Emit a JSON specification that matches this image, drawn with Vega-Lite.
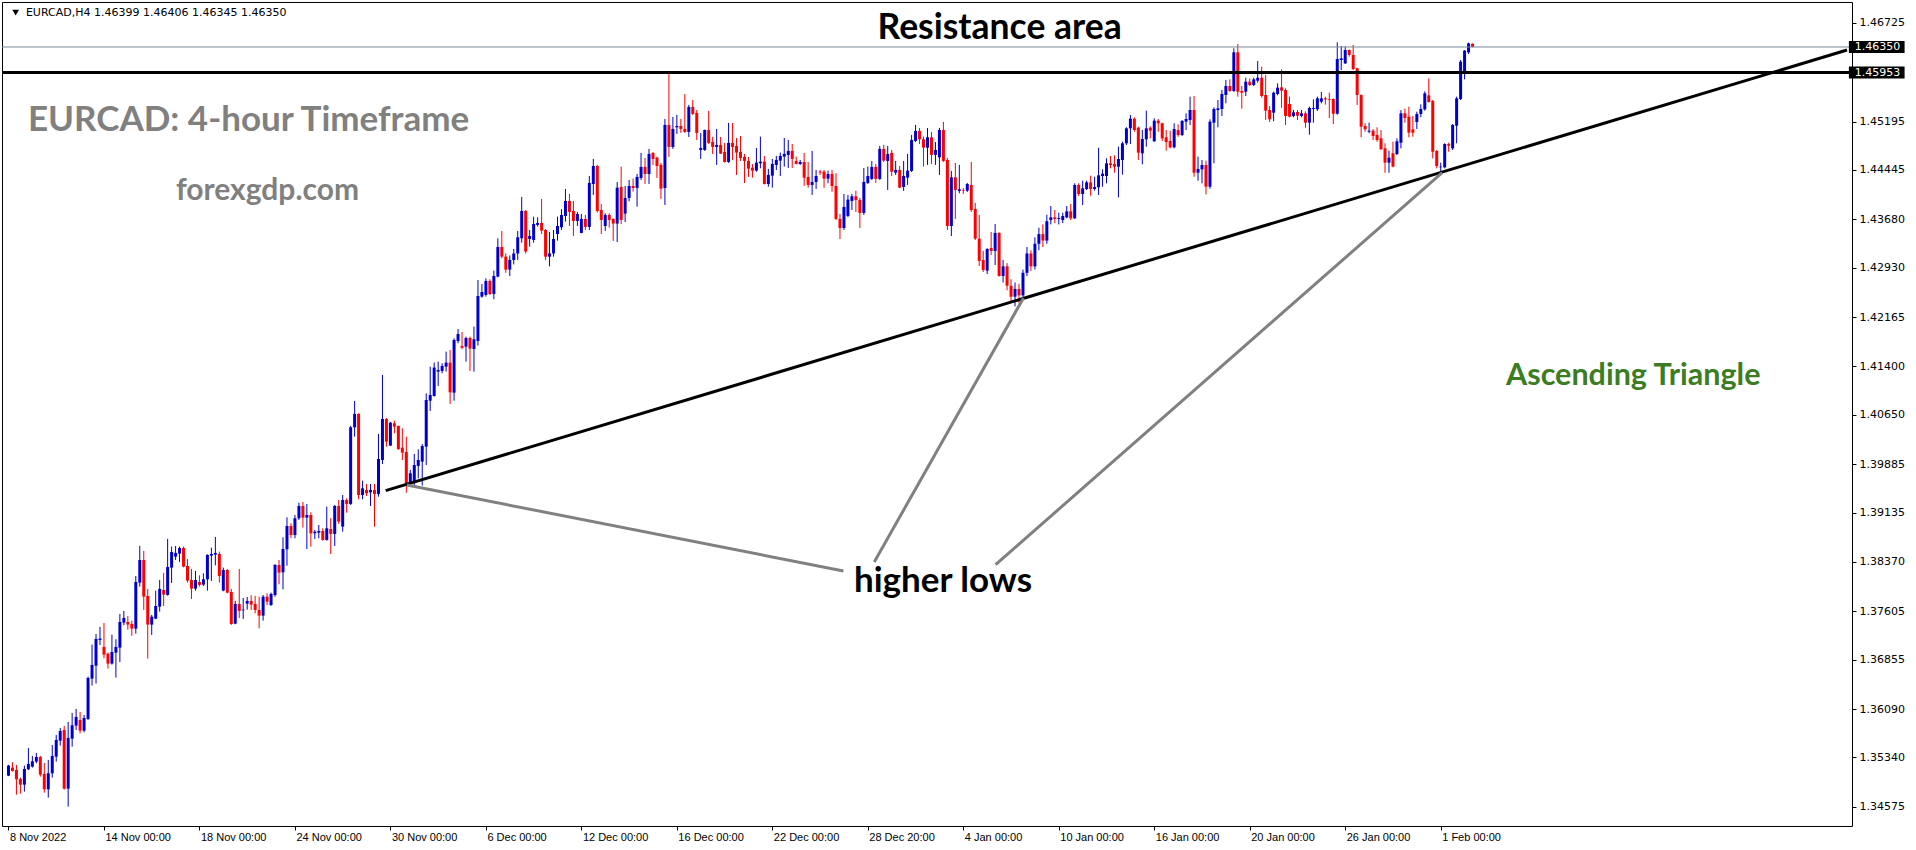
{
"$schema": "https://vega.github.io/schema/vega-lite/v6.json",
"width": 1850, "height": 824,
"autosize": {"type": "none"},
"padding": {"left": 2, "top": 2, "right": 64, "bottom": 24},
"background": "white",
"config": {"view": {"stroke": "#000000", "strokeWidth": 1}, "axis": {"grid": false, "domain": false}},
"data": {"values": [{}]},
"datasets": {"candles": [
{"i":0,"o":1.35058,"h":1.35223,"l":1.3505,"c":1.35213},
{"i":1,"o":1.35182,"h":1.35264,"l":1.3512,"c":1.3513},
{"i":2,"o":1.35146,"h":1.35223,"l":1.34763,"c":1.35001},
{"i":3,"o":1.35006,"h":1.35027,"l":1.34779,"c":1.34918},
{"i":4,"o":1.34918,"h":1.35213,"l":1.3481,"c":1.35161},
{"i":5,"o":1.35156,"h":1.35487,"l":1.35146,"c":1.35239},
{"i":6,"o":1.35197,"h":1.35363,"l":1.35182,"c":1.3528},
{"i":7,"o":1.35275,"h":1.35409,"l":1.35249,"c":1.35347},
{"i":8,"o":1.35347,"h":1.35363,"l":1.35042,"c":1.35073},
{"i":9,"o":1.35084,"h":1.35254,"l":1.34794,"c":1.34846},
{"i":10,"o":1.34846,"h":1.35301,"l":1.34717,"c":1.35094},
{"i":11,"o":1.35094,"h":1.35533,"l":1.35027,"c":1.35363},
{"i":12,"o":1.35352,"h":1.35688,"l":1.35275,"c":1.35611},
{"i":13,"o":1.356,"h":1.35797,"l":1.35523,"c":1.3575},
{"i":14,"o":1.35766,"h":1.35828,"l":1.34841,"c":1.34856},
{"i":15,"o":1.34856,"h":1.35889,"l":1.34577,"c":1.35642},
{"i":16,"o":1.35631,"h":1.36029,"l":1.35507,"c":1.35838},
{"i":17,"o":1.35833,"h":1.36091,"l":1.35766,"c":1.35967},
{"i":18,"o":1.3592,"h":1.36044,"l":1.35714,"c":1.35755},
{"i":19,"o":1.35755,"h":1.35998,"l":1.35729,"c":1.35951},
{"i":20,"o":1.35936,"h":1.36592,"l":1.3592,"c":1.36571},
{"i":21,"o":1.36561,"h":1.37088,"l":1.36453,"c":1.36773},
{"i":22,"o":1.36762,"h":1.37253,"l":1.36484,"c":1.37176},
{"i":23,"o":1.3716,"h":1.37362,"l":1.37083,"c":1.37181},
{"i":24,"o":1.37052,"h":1.37424,"l":1.36876,"c":1.36933},
{"i":25,"o":1.36948,"h":1.36964,"l":1.36716,"c":1.36794},
{"i":26,"o":1.36794,"h":1.37243,"l":1.36778,"c":1.36974},
{"i":27,"o":1.36964,"h":1.37171,"l":1.36577,"c":1.37052},
{"i":28,"o":1.37041,"h":1.37563,"l":1.36819,"c":1.37439},
{"i":29,"o":1.37429,"h":1.3761,"l":1.37388,"c":1.37501},
{"i":30,"o":1.37439,"h":1.37532,"l":1.3732,"c":1.37398},
{"i":31,"o":1.37408,"h":1.3746,"l":1.37227,"c":1.37336},
{"i":32,"o":1.37336,"h":1.38152,"l":1.37258,"c":1.38059},
{"i":33,"o":1.38049,"h":1.38617,"l":1.37987,"c":1.384},
{"i":34,"o":1.384,"h":1.3854,"l":1.37625,"c":1.37832},
{"i":35,"o":1.37842,"h":1.37951,"l":1.36871,"c":1.37398},
{"i":36,"o":1.37398,"h":1.37548,"l":1.37238,"c":1.37522},
{"i":37,"o":1.37491,"h":1.37925,"l":1.37481,"c":1.37687},
{"i":38,"o":1.37677,"h":1.3809,"l":1.37599,"c":1.37951},
{"i":39,"o":1.37935,"h":1.38199,"l":1.37687,"c":1.37863},
{"i":40,"o":1.37858,"h":1.38726,"l":1.37847,"c":1.38292},
{"i":41,"o":1.38281,"h":1.38607,"l":1.38044,"c":1.38524},
{"i":42,"o":1.38452,"h":1.38617,"l":1.384,"c":1.38509},
{"i":43,"o":1.38498,"h":1.38607,"l":1.38369,"c":1.38586},
{"i":44,"o":1.38586,"h":1.38607,"l":1.38286,"c":1.38297},
{"i":45,"o":1.38307,"h":1.38416,"l":1.38049,"c":1.3808},
{"i":46,"o":1.3809,"h":1.38261,"l":1.37796,"c":1.37956},
{"i":47,"o":1.37956,"h":1.3823,"l":1.37925,"c":1.3809},
{"i":48,"o":1.38059,"h":1.38162,"l":1.37987,"c":1.38013},
{"i":49,"o":1.38018,"h":1.38193,"l":1.37997,"c":1.381},
{"i":50,"o":1.381,"h":1.38488,"l":1.37925,"c":1.38478},
{"i":51,"o":1.38467,"h":1.38591,"l":1.38075,"c":1.38493},
{"i":52,"o":1.38483,"h":1.38757,"l":1.38317,"c":1.38509},
{"i":53,"o":1.38493,"h":1.38529,"l":1.38049,"c":1.38152},
{"i":54,"o":1.37925,"h":1.38281,"l":1.37915,"c":1.38245},
{"i":55,"o":1.38245,"h":1.38261,"l":1.37884,"c":1.37894},
{"i":56,"o":1.37904,"h":1.37951,"l":1.37393,"c":1.37408},
{"i":57,"o":1.37413,"h":1.37765,"l":1.37403,"c":1.37718},
{"i":58,"o":1.37718,"h":1.38261,"l":1.37501,"c":1.3761},
{"i":59,"o":1.3762,"h":1.37811,"l":1.37486,"c":1.3763},
{"i":60,"o":1.37723,"h":1.37827,"l":1.3763,"c":1.37765},
{"i":61,"o":1.37765,"h":1.37852,"l":1.37625,"c":1.37708},
{"i":62,"o":1.37718,"h":1.37842,"l":1.37573,"c":1.37625},
{"i":63,"o":1.37625,"h":1.37831,"l":1.37341,"c":1.37537},
{"i":64,"o":1.37537,"h":1.37857,"l":1.3746,"c":1.37831},
{"i":65,"o":1.37831,"h":1.37883,"l":1.37702,"c":1.37754},
{"i":66,"o":1.37702,"h":1.37893,"l":1.37687,"c":1.37873},
{"i":67,"o":1.37857,"h":1.38338,"l":1.37831,"c":1.38322},
{"i":68,"o":1.38322,"h":1.384,"l":1.38023,"c":1.38204},
{"i":69,"o":1.38209,"h":1.38751,"l":1.37945,"c":1.3857},
{"i":70,"o":1.38565,"h":1.39061,"l":1.38312,"c":1.38927},
{"i":71,"o":1.38927,"h":1.38968,"l":1.38736,"c":1.38787},
{"i":72,"o":1.38787,"h":1.39097,"l":1.38736,"c":1.39046},
{"i":73,"o":1.39046,"h":1.39288,"l":1.3902,"c":1.39237},
{"i":74,"o":1.39237,"h":1.39299,"l":1.38901,"c":1.39056},
{"i":75,"o":1.39056,"h":1.39268,"l":1.3857,"c":1.39097},
{"i":76,"o":1.39097,"h":1.39139,"l":1.38606,"c":1.38813},
{"i":77,"o":1.38813,"h":1.38865,"l":1.38725,"c":1.38839},
{"i":78,"o":1.38823,"h":1.38942,"l":1.38736,"c":1.38849},
{"i":79,"o":1.38849,"h":1.38891,"l":1.38699,"c":1.3871},
{"i":80,"o":1.3871,"h":1.39226,"l":1.38699,"c":1.38891},
{"i":81,"o":1.3888,"h":1.39046,"l":1.38493,"c":1.38803},
{"i":82,"o":1.38803,"h":1.39252,"l":1.38617,"c":1.39237},
{"i":83,"o":1.39237,"h":1.3933,"l":1.38958,"c":1.38994},
{"i":84,"o":1.38917,"h":1.39407,"l":1.38839,"c":1.3933},
{"i":85,"o":1.3933,"h":1.39356,"l":1.39133,"c":1.39268},
{"i":86,"o":1.39268,"h":1.40477,"l":1.39252,"c":1.40456},
{"i":87,"o":1.40456,"h":1.40864,"l":1.40311,"c":1.40663},
{"i":88,"o":1.40663,"h":1.40673,"l":1.3934,"c":1.39407},
{"i":89,"o":1.39407,"h":1.39629,"l":1.3934,"c":1.3951},
{"i":90,"o":1.39485,"h":1.39578,"l":1.39392,"c":1.39433},
{"i":91,"o":1.39448,"h":1.39578,"l":1.39237,"c":1.39485},
{"i":92,"o":1.39485,"h":1.39578,"l":1.38917,"c":1.39423},
{"i":93,"o":1.39423,"h":1.40353,"l":1.39381,"c":1.39965},
{"i":94,"o":1.39949,"h":1.41267,"l":1.39887,"c":1.40585},
{"i":95,"o":1.40585,"h":1.406,"l":1.40156,"c":1.40234},
{"i":96,"o":1.40172,"h":1.4054,"l":1.40166,"c":1.40528},
{"i":97,"o":1.40518,"h":1.40559,"l":1.40363,"c":1.40466},
{"i":98,"o":1.40477,"h":1.40482,"l":1.40105,"c":1.4012},
{"i":99,"o":1.40141,"h":1.4044,"l":1.39949,"c":1.40063},
{"i":100,"o":1.40074,"h":1.40311,"l":1.39443,"c":1.39588},
{"i":101,"o":1.39598,"h":1.39795,"l":1.39562,"c":1.39743},
{"i":102,"o":1.39614,"h":1.40043,"l":1.39562,"c":1.39872},
{"i":103,"o":1.39857,"h":1.40115,"l":1.39665,"c":1.39949},
{"i":104,"o":1.39924,"h":1.40197,"l":1.39552,"c":1.40166},
{"i":105,"o":1.40156,"h":1.40983,"l":1.39872,"c":1.40879},
{"i":106,"o":1.40869,"h":1.41396,"l":1.40709,"c":1.40957},
{"i":107,"o":1.40941,"h":1.41458,"l":1.40931,"c":1.41381},
{"i":108,"o":1.41319,"h":1.41474,"l":1.41096,"c":1.41344},
{"i":109,"o":1.41329,"h":1.41448,"l":1.41293,"c":1.41406},
{"i":110,"o":1.41396,"h":1.41629,"l":1.41319,"c":1.41458},
{"i":111,"o":1.41458,"h":1.41654,"l":1.40817,"c":1.40998},
{"i":112,"o":1.40993,"h":1.41835,"l":1.40869,"c":1.41809},
{"i":113,"o":1.41794,"h":1.4198,"l":1.41758,"c":1.41902},
{"i":114,"o":1.41716,"h":1.41933,"l":1.41665,"c":1.4169},
{"i":115,"o":1.41706,"h":1.41861,"l":1.41474,"c":1.4184},
{"i":116,"o":1.4184,"h":1.41861,"l":1.41329,"c":1.41675},
{"i":117,"o":1.4167,"h":1.42016,"l":1.41319,"c":1.4182},
{"i":118,"o":1.41794,"h":1.42739,"l":1.41722,"c":1.42491},
{"i":119,"o":1.42481,"h":1.42677,"l":1.42465,"c":1.42553},
{"i":120,"o":1.42507,"h":1.42765,"l":1.42481,"c":1.42724},
{"i":121,"o":1.42724,"h":1.4275,"l":1.42507,"c":1.42522},
{"i":122,"o":1.42522,"h":1.42884,"l":1.4244,"c":1.42801},
{"i":123,"o":1.42791,"h":1.43385,"l":1.4278,"c":1.43251},
{"i":124,"o":1.43251,"h":1.43499,"l":1.43075,"c":1.43101},
{"i":125,"o":1.43101,"h":1.4315,"l":1.4285,"c":1.429},
{"i":126,"o":1.429,"h":1.4312,"l":1.428,"c":1.4305},
{"i":127,"o":1.4305,"h":1.4322,"l":1.4298,"c":1.4315},
{"i":128,"o":1.4315,"h":1.43499,"l":1.4305,"c":1.43401},
{"i":129,"o":1.43385,"h":1.44026,"l":1.43318,"c":1.43809},
{"i":130,"o":1.43809,"h":1.43824,"l":1.4315,"c":1.4318},
{"i":131,"o":1.43375,"h":1.43514,"l":1.43256,"c":1.43421},
{"i":132,"o":1.43359,"h":1.43721,"l":1.43318,"c":1.43607},
{"i":133,"o":1.43592,"h":1.43711,"l":1.43566,"c":1.43623},
{"i":134,"o":1.43623,"h":1.43995,"l":1.43452,"c":1.43504},
{"i":135,"o":1.43514,"h":1.4353,"l":1.4305,"c":1.431},
{"i":136,"o":1.431,"h":1.43483,"l":1.4295,"c":1.4315},
{"i":137,"o":1.4315,"h":1.43514,"l":1.431,"c":1.43375},
{"i":138,"o":1.43452,"h":1.43721,"l":1.43349,"c":1.43576},
{"i":139,"o":1.43556,"h":1.43835,"l":1.43514,"c":1.43747},
{"i":140,"o":1.43731,"h":1.4415,"l":1.43644,"c":1.43964},
{"i":141,"o":1.43964,"h":1.44072,"l":1.43576,"c":1.43793},
{"i":142,"o":1.43809,"h":1.43964,"l":1.43421,"c":1.43654},
{"i":143,"o":1.43654,"h":1.43793,"l":1.43576,"c":1.43762},
{"i":144,"o":1.43468,"h":1.43762,"l":1.43463,"c":1.43685},
{"i":145,"o":1.43685,"h":1.43747,"l":1.43514,"c":1.43561},
{"i":146,"o":1.43561,"h":1.44351,"l":1.43514,"c":1.44243},
{"i":147,"o":1.44227,"h":1.44615,"l":1.44057,"c":1.44506},
{"i":148,"o":1.44506,"h":1.44522,"l":1.43783,"c":1.43809},
{"i":149,"o":1.43824,"h":1.43917,"l":1.43452,"c":1.43669},
{"i":150,"o":1.43576,"h":1.43773,"l":1.43499,"c":1.43747},
{"i":151,"o":1.43747,"h":1.43773,"l":1.43551,"c":1.43669},
{"i":152,"o":1.43685,"h":1.43695,"l":1.43344,"c":1.43613},
{"i":153,"o":1.43613,"h":1.44258,"l":1.43328,"c":1.4417},
{"i":154,"o":1.44181,"h":1.44496,"l":1.43607,"c":1.43669},
{"i":155,"o":1.43768,"h":1.44196,"l":1.43638,"c":1.4401},
{"i":156,"o":1.4401,"h":1.44289,"l":1.43959,"c":1.44196},
{"i":157,"o":1.44196,"h":1.4431,"l":1.44108,"c":1.44165},
{"i":158,"o":1.44165,"h":1.44382,"l":1.43876,"c":1.44336},
{"i":159,"o":1.4432,"h":1.44708,"l":1.44289,"c":1.44491},
{"i":160,"o":1.44491,"h":1.4463,"l":1.44227,"c":1.44382},
{"i":161,"o":1.44382,"h":1.4477,"l":1.44227,"c":1.44692},
{"i":162,"o":1.44708,"h":1.4472,"l":1.44522,"c":1.44615},
{"i":163,"o":1.44635,"h":1.44651,"l":1.4432,"c":1.44506},
{"i":164,"o":1.44522,"h":1.44553,"l":1.43995,"c":1.44155},
{"i":165,"o":1.44165,"h":1.45235,"l":1.43902,"c":1.45142},
{"i":166,"o":1.45142,"h":1.4595,"l":1.44646,"c":1.44801},
{"i":167,"o":1.44801,"h":1.45266,"l":1.4477,"c":1.4508},
{"i":168,"o":1.45105,"h":1.45297,"l":1.45002,"c":1.45126},
{"i":169,"o":1.45126,"h":1.45235,"l":1.45018,"c":1.4508},
{"i":170,"o":1.4508,"h":1.45622,"l":1.4502,"c":1.45033},
{"i":171,"o":1.45033,"h":1.45452,"l":1.44956,"c":1.45421},
{"i":172,"o":1.45421,"h":1.45529,"l":1.45297,"c":1.45312},
{"i":173,"o":1.45328,"h":1.45374,"l":1.44909,"c":1.45018},
{"i":174,"o":1.44754,"h":1.45018,"l":1.44615,"c":1.44785},
{"i":175,"o":1.44754,"h":1.4507,"l":1.44739,"c":1.45064},
{"i":176,"o":1.45064,"h":1.45359,"l":1.44847,"c":1.44863},
{"i":177,"o":1.44878,"h":1.44956,"l":1.44692,"c":1.44801},
{"i":178,"o":1.44801,"h":1.4508,"l":1.44522,"c":1.44832},
{"i":179,"o":1.44832,"h":1.44956,"l":1.44692,"c":1.44697},
{"i":180,"o":1.44723,"h":1.44863,"l":1.44558,"c":1.44568},
{"i":181,"o":1.44568,"h":1.45173,"l":1.44553,"c":1.44863},
{"i":182,"o":1.44863,"h":1.45173,"l":1.44599,"c":1.44801},
{"i":183,"o":1.44816,"h":1.4494,"l":1.44367,"c":1.44713},
{"i":184,"o":1.44723,"h":1.44971,"l":1.44584,"c":1.4463},
{"i":185,"o":1.44646,"h":1.44692,"l":1.44243,"c":1.44584},
{"i":186,"o":1.44584,"h":1.44646,"l":1.44336,"c":1.44465},
{"i":187,"o":1.4448,"h":1.44537,"l":1.44325,"c":1.44434},
{"i":188,"o":1.44434,"h":1.44785,"l":1.44418,"c":1.44558},
{"i":189,"o":1.44547,"h":1.44961,"l":1.4447,"c":1.44573},
{"i":190,"o":1.44573,"h":1.44661,"l":1.4422,"c":1.44227},
{"i":191,"o":1.44227,"h":1.4446,"l":1.44186,"c":1.44367},
{"i":192,"o":1.44356,"h":1.44615,"l":1.4417,"c":1.44537},
{"i":193,"o":1.44522,"h":1.44661,"l":1.44444,"c":1.44599},
{"i":194,"o":1.44589,"h":1.44713,"l":1.44351,"c":1.44661},
{"i":195,"o":1.44651,"h":1.4494,"l":1.44496,"c":1.44692},
{"i":196,"o":1.44677,"h":1.44909,"l":1.44475,"c":1.44739},
{"i":197,"o":1.44739,"h":1.44847,"l":1.44475,"c":1.44615},
{"i":198,"o":1.44584,"h":1.44651,"l":1.4453,"c":1.44537},
{"i":199,"o":1.44537,"h":1.44599,"l":1.44522,"c":1.44568},
{"i":200,"o":1.44568,"h":1.44708,"l":1.44196,"c":1.44325},
{"i":201,"o":1.44336,"h":1.44568,"l":1.4417,"c":1.44212},
{"i":202,"o":1.44212,"h":1.44739,"l":1.44057,"c":1.44258},
{"i":203,"o":1.44258,"h":1.44444,"l":1.4415,"c":1.44351},
{"i":204,"o":1.44418,"h":1.44444,"l":1.44367,"c":1.44403},
{"i":205,"o":1.44418,"h":1.44444,"l":1.44165,"c":1.4431},
{"i":206,"o":1.4431,"h":1.44434,"l":1.44238,"c":1.44382},
{"i":207,"o":1.44382,"h":1.44444,"l":1.44108,"c":1.44196},
{"i":208,"o":1.44196,"h":1.44393,"l":1.43669,"c":1.43685},
{"i":209,"o":1.43685,"h":1.43762,"l":1.43375,"c":1.43545},
{"i":210,"o":1.43545,"h":1.44072,"l":1.43514,"c":1.43871},
{"i":211,"o":1.43731,"h":1.44057,"l":1.43711,"c":1.43984},
{"i":212,"o":1.43964,"h":1.44072,"l":1.43824,"c":1.44036},
{"i":213,"o":1.44036,"h":1.44124,"l":1.43793,"c":1.43979},
{"i":214,"o":1.43979,"h":1.4401,"l":1.43545,"c":1.43778},
{"i":215,"o":1.43778,"h":1.44475,"l":1.43747,"c":1.44258},
{"i":216,"o":1.44243,"h":1.44496,"l":1.44227,"c":1.44351},
{"i":217,"o":1.44305,"h":1.44584,"l":1.44289,"c":1.44491},
{"i":218,"o":1.44491,"h":1.44537,"l":1.44243,"c":1.44305},
{"i":219,"o":1.44305,"h":1.44816,"l":1.44289,"c":1.4477},
{"i":220,"o":1.4477,"h":1.44832,"l":1.44568,"c":1.44589},
{"i":221,"o":1.44584,"h":1.44816,"l":1.44134,"c":1.44692},
{"i":222,"o":1.44708,"h":1.44754,"l":1.44351,"c":1.44418},
{"i":223,"o":1.44403,"h":1.44584,"l":1.44367,"c":1.44444},
{"i":224,"o":1.44444,"h":1.44506,"l":1.44165,"c":1.4417},
{"i":225,"o":1.44181,"h":1.44584,"l":1.44119,"c":1.44351},
{"i":226,"o":1.44325,"h":1.44692,"l":1.44212,"c":1.44434},
{"i":227,"o":1.44429,"h":1.44987,"l":1.44413,"c":1.44909},
{"i":228,"o":1.44894,"h":1.45142,"l":1.44878,"c":1.45049},
{"i":229,"o":1.45049,"h":1.45095,"l":1.44847,"c":1.44919},
{"i":230,"o":1.44919,"h":1.44961,"l":1.44496,"c":1.4479},
{"i":231,"o":1.4479,"h":1.45095,"l":1.44522,"c":1.4495},
{"i":232,"o":1.4495,"h":1.45033,"l":1.44537,"c":1.44677},
{"i":233,"o":1.44677,"h":1.44878,"l":1.44522,"c":1.44754},
{"i":234,"o":1.4464,"h":1.45095,"l":1.44367,"c":1.45064},
{"i":235,"o":1.45064,"h":1.45188,"l":1.44568,"c":1.44584},
{"i":236,"o":1.44599,"h":1.4463,"l":1.43514,"c":1.43576},
{"i":237,"o":1.43576,"h":1.44429,"l":1.43421,"c":1.4433},
{"i":238,"o":1.4433,"h":1.44553,"l":1.43685,"c":1.44134},
{"i":239,"o":1.44119,"h":1.44522,"l":1.44082,"c":1.44145},
{"i":240,"o":1.44134,"h":1.44165,"l":1.44072,"c":1.44124},
{"i":241,"o":1.44124,"h":1.44243,"l":1.44103,"c":1.44227},
{"i":242,"o":1.44212,"h":1.44568,"l":1.43793,"c":1.43824},
{"i":243,"o":1.4384,"h":1.43933,"l":1.43359,"c":1.4338},
{"i":244,"o":1.4338,"h":1.43747,"l":1.42956,"c":1.43034},
{"i":245,"o":1.43049,"h":1.43189,"l":1.42863,"c":1.42894},
{"i":246,"o":1.42884,"h":1.4323,"l":1.42832,"c":1.4322},
{"i":247,"o":1.43235,"h":1.43483,"l":1.43127,"c":1.43189},
{"i":248,"o":1.43189,"h":1.43607,"l":1.42972,"c":1.43468},
{"i":249,"o":1.43468,"h":1.4348,"l":1.42791,"c":1.42801},
{"i":250,"o":1.42801,"h":1.4305,"l":1.427,"c":1.4295},
{"i":251,"o":1.4295,"h":1.43,"l":1.4258,"c":1.4265},
{"i":252,"o":1.4265,"h":1.4275,"l":1.424,"c":1.4248},
{"i":253,"o":1.4248,"h":1.427,"l":1.4233,"c":1.426},
{"i":254,"o":1.426,"h":1.4268,"l":1.4238,"c":1.425},
{"i":255,"o":1.425,"h":1.429,"l":1.4245,"c":1.4285},
{"i":256,"o":1.4285,"h":1.4325,"l":1.428,"c":1.4315},
{"i":257,"o":1.4315,"h":1.432,"l":1.4288,"c":1.4295},
{"i":258,"o":1.4295,"h":1.434,"l":1.429,"c":1.433},
{"i":259,"o":1.433,"h":1.4355,"l":1.432,"c":1.4345},
{"i":260,"o":1.4345,"h":1.436,"l":1.4325,"c":1.4335},
{"i":261,"o":1.4335,"h":1.4375,"l":1.433,"c":1.4365},
{"i":262,"o":1.43668,"h":1.43885,"l":1.436,"c":1.4371},
{"i":263,"o":1.4371,"h":1.43823,"l":1.4362,"c":1.43684},
{"i":264,"o":1.43684,"h":1.43782,"l":1.436,"c":1.437},
{"i":265,"o":1.43668,"h":1.43782,"l":1.4362,"c":1.4373},
{"i":266,"o":1.4371,"h":1.43885,"l":1.43694,"c":1.43803},
{"i":267,"o":1.43803,"h":1.43916,"l":1.43668,"c":1.43694},
{"i":268,"o":1.43694,"h":1.44237,"l":1.43684,"c":1.44211},
{"i":269,"o":1.44211,"h":1.44237,"l":1.4404,"c":1.44071},
{"i":270,"o":1.44071,"h":1.44278,"l":1.43901,"c":1.44159},
{"i":271,"o":1.44149,"h":1.44278,"l":1.44133,"c":1.44252},
{"i":272,"o":1.44252,"h":1.44355,"l":1.44045,"c":1.44149},
{"i":273,"o":1.44149,"h":1.4434,"l":1.44123,"c":1.4418},
{"i":274,"o":1.44175,"h":1.44789,"l":1.44056,"c":1.44361},
{"i":275,"o":1.4435,"h":1.44454,"l":1.44185,"c":1.44386},
{"i":276,"o":1.4435,"h":1.44624,"l":1.44237,"c":1.44547},
{"i":277,"o":1.44547,"h":1.4466,"l":1.44469,"c":1.44521},
{"i":278,"o":1.44536,"h":1.44671,"l":1.44402,"c":1.44495},
{"i":279,"o":1.44495,"h":1.44805,"l":1.4402,"c":1.44614},
{"i":280,"o":1.44598,"h":1.44882,"l":1.44371,"c":1.44857},
{"i":281,"o":1.44857,"h":1.45105,"l":1.44831,"c":1.45089},
{"i":282,"o":1.45089,"h":1.45296,"l":1.44846,"c":1.45239},
{"i":283,"o":1.45239,"h":1.4526,"l":1.45037,"c":1.45063},
{"i":284,"o":1.45099,"h":1.45115,"l":1.44598,"c":1.44712},
{"i":285,"o":1.44702,"h":1.45063,"l":1.44531,"c":1.44924},
{"i":286,"o":1.44919,"h":1.45363,"l":1.44805,"c":1.45089},
{"i":287,"o":1.45099,"h":1.4512,"l":1.44934,"c":1.45053},
{"i":288,"o":1.44888,"h":1.45244,"l":1.44882,"c":1.45208},
{"i":289,"o":1.45208,"h":1.45234,"l":1.45037,"c":1.45167},
{"i":290,"o":1.45167,"h":1.45177,"l":1.44893,"c":1.44934},
{"i":291,"o":1.4495,"h":1.45063,"l":1.44743,"c":1.44877},
{"i":292,"o":1.44893,"h":1.45053,"l":1.44779,"c":1.44795},
{"i":293,"o":1.44795,"h":1.45167,"l":1.44779,"c":1.45079},
{"i":294,"o":1.45063,"h":1.45151,"l":1.4496,"c":1.44986},
{"i":295,"o":1.44986,"h":1.45218,"l":1.4497,"c":1.45203},
{"i":296,"o":1.45192,"h":1.45322,"l":1.45063,"c":1.45234},
{"i":297,"o":1.45218,"h":1.4558,"l":1.45141,"c":1.45373},
{"i":298,"o":1.45373,"h":1.4559,"l":1.4434,"c":1.44402},
{"i":299,"o":1.44402,"h":1.4465,"l":1.44278,"c":1.44459},
{"i":300,"o":1.44454,"h":1.44598,"l":1.44237,"c":1.44521},
{"i":301,"o":1.44521,"h":1.44588,"l":1.44066,"c":1.44185},
{"i":302,"o":1.44185,"h":1.45229,"l":1.44154,"c":1.45192},
{"i":303,"o":1.45177,"h":1.45415,"l":1.44547,"c":1.45389},
{"i":304,"o":1.45373,"h":1.45528,"l":1.45105,"c":1.45399},
{"i":305,"o":1.45389,"h":1.45683,"l":1.4528,"c":1.45621},
{"i":306,"o":1.45606,"h":1.45838,"l":1.45476,"c":1.45745},
{"i":307,"o":1.45745,"h":1.45848,"l":1.45657,"c":1.45668},
{"i":308,"o":1.45668,"h":1.46329,"l":1.45652,"c":1.46267},
{"i":309,"o":1.46267,"h":1.46396,"l":1.4558,"c":1.45657},
{"i":310,"o":1.45668,"h":1.45745,"l":1.45394,"c":1.45642},
{"i":311,"o":1.45657,"h":1.45874,"l":1.4559,"c":1.45812},
{"i":312,"o":1.45812,"h":1.45864,"l":1.45745,"c":1.45761},
{"i":313,"o":1.45761,"h":1.45874,"l":1.45745,"c":1.45848},
{"i":314,"o":1.45828,"h":1.46133,"l":1.45797,"c":1.45874},
{"i":315,"o":1.45874,"h":1.46045,"l":1.45564,"c":1.4559},
{"i":316,"o":1.45606,"h":1.45916,"l":1.45218,"c":1.45363},
{"i":317,"o":1.45373,"h":1.45435,"l":1.45187,"c":1.45229},
{"i":318,"o":1.45332,"h":1.45657,"l":1.45198,"c":1.45642},
{"i":319,"o":1.45621,"h":1.45786,"l":1.456,"c":1.45719},
{"i":320,"o":1.45724,"h":1.46003,"l":1.45409,"c":1.45673},
{"i":321,"o":1.45683,"h":1.45709,"l":1.45141,"c":1.4528},
{"i":322,"o":1.45466,"h":1.4558,"l":1.4526,"c":1.4527},
{"i":323,"o":1.4528,"h":1.45373,"l":1.4526,"c":1.45337},
{"i":324,"o":1.45342,"h":1.45373,"l":1.45218,"c":1.45285},
{"i":325,"o":1.4528,"h":1.45373,"l":1.4526,"c":1.45322},
{"i":326,"o":1.45322,"h":1.45353,"l":1.45099,"c":1.45177},
{"i":327,"o":1.45177,"h":1.45425,"l":1.44991,"c":1.45404},
{"i":328,"o":1.45389,"h":1.45538,"l":1.45177,"c":1.45404},
{"i":329,"o":1.45384,"h":1.4558,"l":1.45358,"c":1.45554},
{"i":330,"o":1.45502,"h":1.45652,"l":1.45476,"c":1.45554},
{"i":331,"o":1.45554,"h":1.4558,"l":1.45456,"c":1.45538},
{"i":332,"o":1.45544,"h":1.45642,"l":1.45249,"c":1.45533},
{"i":333,"o":1.45544,"h":1.45554,"l":1.45156,"c":1.45316},
{"i":334,"o":1.45316,"h":1.46422,"l":1.45301,"c":1.46164},
{"i":335,"o":1.46148,"h":1.46365,"l":1.45993,"c":1.46174},
{"i":336,"o":1.46096,"h":1.46355,"l":1.46086,"c":1.46303},
{"i":337,"o":1.46303,"h":1.46313,"l":1.462,"c":1.46226},
{"i":338,"o":1.46226,"h":1.46381,"l":1.45993,"c":1.46009},
{"i":339,"o":1.46019,"h":1.46029,"l":1.45451,"c":1.45606},
{"i":340,"o":1.45606,"h":1.45616,"l":1.4495,"c":1.45115},
{"i":341,"o":1.45125,"h":1.45167,"l":1.45037,"c":1.45074},
{"i":342,"o":1.45037,"h":1.45177,"l":1.45012,"c":1.45053},
{"i":343,"o":1.45053,"h":1.45079,"l":1.44908,"c":1.4497},
{"i":344,"o":1.44986,"h":1.45105,"l":1.44882,"c":1.44908},
{"i":345,"o":1.44934,"h":1.45063,"l":1.4476,"c":1.44764},
{"i":346,"o":1.44779,"h":1.44857,"l":1.44402,"c":1.44557},
{"i":347,"o":1.44557,"h":1.44743,"l":1.44402,"c":1.44634},
{"i":348,"o":1.44702,"h":1.44882,"l":1.44485,"c":1.44495},
{"i":349,"o":1.44691,"h":1.44934,"l":1.44676,"c":1.44888},
{"i":350,"o":1.44867,"h":1.45373,"l":1.44779,"c":1.45322},
{"i":351,"o":1.45322,"h":1.45394,"l":1.45177,"c":1.45249},
{"i":352,"o":1.4527,"h":1.45425,"l":1.4495,"c":1.45022},
{"i":353,"o":1.45074,"h":1.4528,"l":1.4496,"c":1.45022},
{"i":354,"o":1.45187,"h":1.45347,"l":1.45079,"c":1.45311},
{"i":355,"o":1.45311,"h":1.45461,"l":1.4526,"c":1.45389},
{"i":356,"o":1.45384,"h":1.45662,"l":1.45363,"c":1.45631},
{"i":357,"o":1.456,"h":1.45864,"l":1.45487,"c":1.45497},
{"i":358,"o":1.45513,"h":1.45528,"l":1.44624,"c":1.44727},
{"i":359,"o":1.44738,"h":1.44753,"l":1.44469,"c":1.44505},
{"i":360,"o":1.44485,"h":1.44557,"l":1.44417,"c":1.44495},
{"i":361,"o":1.44485,"h":1.44857,"l":1.44469,"c":1.44846},
{"i":362,"o":1.44846,"h":1.44867,"l":1.44727,"c":1.4482},
{"i":363,"o":1.44779,"h":1.45156,"l":1.44753,"c":1.45141},
{"i":364,"o":1.4513,"h":1.4558,"l":1.44857,"c":1.45554},
{"i":365,"o":1.45544,"h":1.46148,"l":1.45528,"c":1.46122},
{"i":366,"o":1.45967,"h":1.46303,"l":1.45848,"c":1.46293},
{"i":367,"o":1.46267,"h":1.46417,"l":1.46241,"c":1.46406},
{"i":368,"o":1.46399,"h":1.46406,"l":1.46345,"c":1.4635}
]},
"layer": [
{"data": {"name": "candles"},
 "mark": {"type": "rule", "strokeWidth": 1},
 "encoding": {
  "x": {"field": "i", "type": "quantitative",
        "scale": {"domain": [-0.375, 462.125], "nice": false, "zero": false},
        "axis": {"values": [0,24,48,72,96,120,144,168,192,216,240,264,288,312,336,360],
                 "labelExpr": "['8 Nov 2022','14 Nov 00:00','18 Nov 00:00','24 Nov 00:00','30 Nov 00:00','6 Dec 00:00','12 Dec 00:00','16 Dec 00:00','22 Dec 00:00','28 Dec 20:00','4 Jan 00:00','10 Jan 00:00','16 Jan 00:00','20 Jan 00:00','26 Jan 00:00','1 Feb 00:00'][round(datum.value/24)]",
                 "title": null, "orient": "bottom", "tickSize": 4, "tickColor": "#000000", "labelAlign": "left",
                 "labelFont": "Liberation Sans", "labelFontSize": 11, "labelColor": "#000000", "labelPadding": 1,
                 "labelOffset": 1, "labelOverlap": false, "labelBound": false, "labelFlush": false}},
  "y": {"field": "l", "type": "quantitative",
        "scale": {"domain": [1.34277, 1.47047], "nice": false, "zero": false},
        "axis": {"values": [1.34575,1.3534,1.3609,1.36855,1.37605,1.3837,1.39135,1.39885,1.4065,1.414,1.42165,1.4293,1.4368,1.44445,1.45195,1.46725],
                 "format": ".5f", "orient": "right", "title": null, "tickSize": 4, "labelPadding": 3,
                 "labelFont": "DejaVu Sans", "labelFontSize": 11, "labelColor": "#000000", "tickColor": "#000000", "labelOverlap": false, "labelBound": false}},
  "y2": {"field": "h"},
  "color": {"condition": {"test": "datum.c >= datum.o", "value": "#0000CD"}, "value": "#FF0000"}
 }},
{"data": {"name": "candles"},
 "mark": {"type": "bar", "size": 3, "orient": "vertical"},
 "encoding": {
  "x": {"field": "i", "type": "quantitative"},
  "y": {"field": "o", "type": "quantitative"},
  "y2": {"field": "c"},
  "color": {"condition": {"test": "datum.c >= datum.o", "value": "#0000CD"}, "value": "#FF0000"}
 }},
{"mark": {"type": "rule", "color": "#778899", "strokeWidth": 1},
 "encoding": {"y": {"datum": 1.4635, "type": "quantitative"}}},
{"mark": {"type": "rule", "color": "#000000", "strokeWidth": 3},
 "encoding": {"y": {"datum": 1.45953, "type": "quantitative"}}},
{"mark": {"type": "rule", "color": "#000000", "strokeWidth": 3},
 "encoding": {"x": {"datum": 94.8, "type": "quantitative"}, "x2": {"datum": 462.125},
              "y": {"datum": 1.39474, "type": "quantitative"}, "y2": {"datum": 1.46303}}},
{"mark": {"type": "rule", "color": "#808080", "strokeWidth": 3},
 "encoding": {"x": {"datum": 100.125, "type": "quantitative"}, "x2": {"datum": 209.875},
              "y": {"datum": 1.39562, "type": "quantitative"}, "y2": {"datum": 1.38229}}},
{"mark": {"type": "rule", "color": "#808080", "strokeWidth": 3},
 "encoding": {"x": {"datum": 255.125, "type": "quantitative"}, "x2": {"datum": 217.625},
              "y": {"datum": 1.4246, "type": "quantitative"}, "y2": {"datum": 1.38369}}},
{"mark": {"type": "rule", "color": "#808080", "strokeWidth": 3},
 "encoding": {"x": {"datum": 360.375, "type": "quantitative"}, "x2": {"datum": 248.125},
              "y": {"datum": 1.44402, "type": "quantitative"}, "y2": {"datum": 1.38328}}},
{"mark": {"type": "text", "font": "Lato", "fontWeight": "bold", "fontSize": 35.5, "color": "#000000", "align": "center", "baseline": "middle"},
 "encoding": {"x": {"datum": 249.125, "type": "quantitative"}, "y": {"datum": 1.46644, "type": "quantitative"}, "text": {"value": "Resistance area"}}},
{"mark": {"type": "text", "font": "Lato", "fontWeight": "bold", "fontSize": 35, "color": "#808080", "align": "left", "baseline": "middle"},
 "encoding": {"x": {"datum": 4.9, "type": "quantitative"}, "y": {"datum": 1.45219, "type": "quantitative"}, "text": {"value": "EURCAD: 4-hour Timeframe"}}},
{"mark": {"type": "text", "font": "Lato", "fontWeight": "bold", "fontSize": 30, "color": "#808080", "align": "center", "baseline": "middle"},
 "encoding": {"x": {"datum": 65.1, "type": "quantitative"}, "y": {"datum": 1.44118, "type": "quantitative"}, "text": {"value": "forexgdp.com"}}},
{"mark": {"type": "text", "font": "Lato", "fontWeight": "bold", "fontSize": 30.5, "color": "#3B7D23", "align": "center", "baseline": "middle"},
 "encoding": {"x": {"datum": 408.4, "type": "quantitative"}, "y": {"datum": 1.41244, "type": "quantitative"}, "text": {"value": "Ascending Triangle"}}},
{"mark": {"type": "text", "font": "Lato", "fontWeight": "bold", "fontSize": 35, "color": "#000000", "align": "center", "baseline": "middle"},
 "encoding": {"x": {"datum": 234.9, "type": "quantitative"}, "y": {"datum": 1.38074, "type": "quantitative"}, "text": {"value": "higher lows"}}},
{"mark": {"type": "point", "shape": "triangle-down", "filled": true, "size": 45, "color": "#000000", "opacity": 1},
 "encoding": {"x": {"datum": 1.8, "type": "quantitative"}, "y": {"datum": 1.46882, "type": "quantitative"}}},
{"mark": {"type": "text", "font": "DejaVu Sans", "fontSize": 11, "color": "#000000", "align": "left", "baseline": "middle"},
 "encoding": {"x": {"datum": 4.375, "type": "quantitative"}, "y": {"datum": 1.46877, "type": "quantitative"}, "text": {"value": "EURCAD,H4  1.46399 1.46406 1.46345 1.46350"}}},
{"mark": {"type": "rect", "color": "#000000"},
 "encoding": {"x": {"datum": 462.6, "type": "quantitative"}, "x2": {"datum": 476.6},
              "y": {"datum": 1.46257, "type": "quantitative"}, "y2": {"datum": 1.46443}}},
{"mark": {"type": "rect", "color": "#000000"},
 "encoding": {"x": {"datum": 462.6, "type": "quantitative"}, "x2": {"datum": 476.6},
              "y": {"datum": 1.4586, "type": "quantitative"}, "y2": {"datum": 1.46046}}},
{"mark": {"type": "text", "font": "DejaVu Sans", "fontSize": 11, "color": "#FFFFFF", "align": "left", "baseline": "middle"},
 "encoding": {"x": {"datum": 464.1, "type": "quantitative"}, "y": {"datum": 1.4635, "type": "quantitative"}, "text": {"value": "1.46350"}}},
{"mark": {"type": "text", "font": "DejaVu Sans", "fontSize": 11, "color": "#FFFFFF", "align": "left", "baseline": "middle"},
 "encoding": {"x": {"datum": 464.1, "type": "quantitative"}, "y": {"datum": 1.45953, "type": "quantitative"}, "text": {"value": "1.45953"}}}
]
}
